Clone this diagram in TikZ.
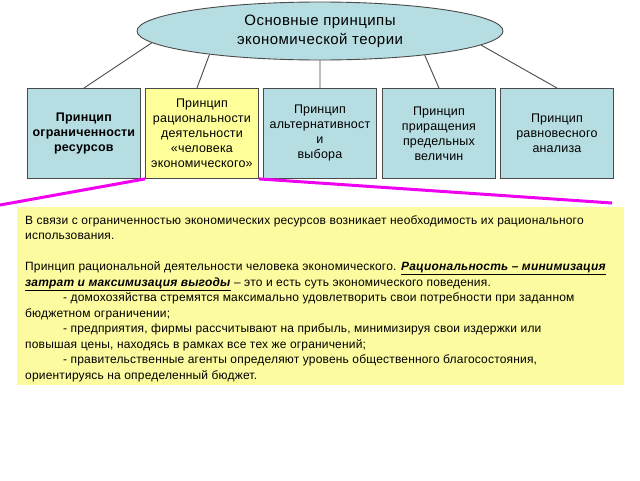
\documentclass[tikz,border=0pt]{standalone}
\usepackage{fontspec}
\setmainfont{Liberation Sans}
\usetikzlibrary{shapes.geometric,calc}
\definecolor{tealfill}{HTML}{B6DDE1}
\definecolor{boxline}{HTML}{4A4A4A}
\definecolor{yelbox}{HTML}{FFFF99}
\definecolor{yelbig}{HTML}{FDFB9F}
\definecolor{magline}{HTML}{F000F0}
\begin{document}
\begin{tikzpicture}[x=1pt,y=-1pt,
  princ/.style={draw=boxline, line width=0.9pt, fill=tealfill, minimum width=113pt, minimum height=90pt, inner sep=1pt, align=center, anchor=north west, font=\fontsize{12.5}{15}\selectfont\addfontfeature{LetterSpace=1.5}},
  conn/.style={draw=boxline, line width=0.9pt},
  mag/.style={draw=magline, line width=3pt}]
\useasboundingbox[fill=white] (0,0) rectangle (640,480);
% yellow explanation box
\fill[yelbig] (17,207) rectangle (624,385);
\node[ellipse, draw=boxline, line width=0.9pt, fill=tealfill, minimum width=366pt, minimum height=58pt, inner sep=0pt, align=center, font=\fontsize{15}{19}\selectfont\addfontfeature{LetterSpace=3}] (e) at (320,31) {\raisebox{-3pt}{Основные принципы}\\\raisebox{-3pt}{экономической теории}};
\node[princ] (b1) at (27,88) {\textbf{Принцип}\\\textbf{ограниченности}\\\textbf{ресурсов}};
\node[princ, fill=yelbox] (b2) at (145,88) {Принцип\\рациональности\\деятельности\\«человека\\экономического»};
\node[princ] (b3) at (263,88) {Принцип\\альтернативност\\и\\выбора};
\node[princ] (b4) at (382,88) {Принцип\\приращения\\предельных\\величин};
\node[princ] (b5) at (500,88) {Принцип\\равновесного\\анализа};
\draw[conn] (b1.north) -- (e.184);
\draw[conn] ([xshift=-5pt]b2.north) -- (e.192.5);
\draw[conn] (b3.north) -- (e.south);
\draw[conn] (b4.north) -- (e.347.4);
\draw[conn] (b5.north) -- (e.355.6);
% magenta callout lines
\coordinate (ml) at (0,205);
\coordinate (mr) at (612,203);
\draw[mag] (b2.south west) -- (ml);
\draw[mag] (b2.south east) -- (mr);
% text
\node[anchor=north west, align=left, inner sep=0pt, font=\fontsize{12}{15.5}\selectfont\addfontfeature{LetterSpace=1.5}] (t) at (25,215) {%
В связи с ограниченностью экономических ресурсов возникает необходимость их рационального\\
использования.\\[15.5pt]
Принцип рациональной деятельности человека экономического. \underline{\textbf{\textit{Рациональность – минимизация}}}\\
\underline{\textbf{\textit{затрат и максимизация выгоды}}} – это и есть суть экономического поведения.\\
\hspace*{38pt}- домохозяйства стремятся максимально удовлетворить свои потребности при заданном\\
бюджетном ограничении;\\
\hspace*{38pt}- предприятия, фирмы рассчитывают на прибыль, минимизируя свои издержки или\\
повышая цены, находясь в рамках все тех же ограничений;\\
\hspace*{38pt}- правительственные агенты определяют уровень общественного благосостояния,\\
ориентируясь на определенный бюджет.};
\end{tikzpicture}
\end{document}
